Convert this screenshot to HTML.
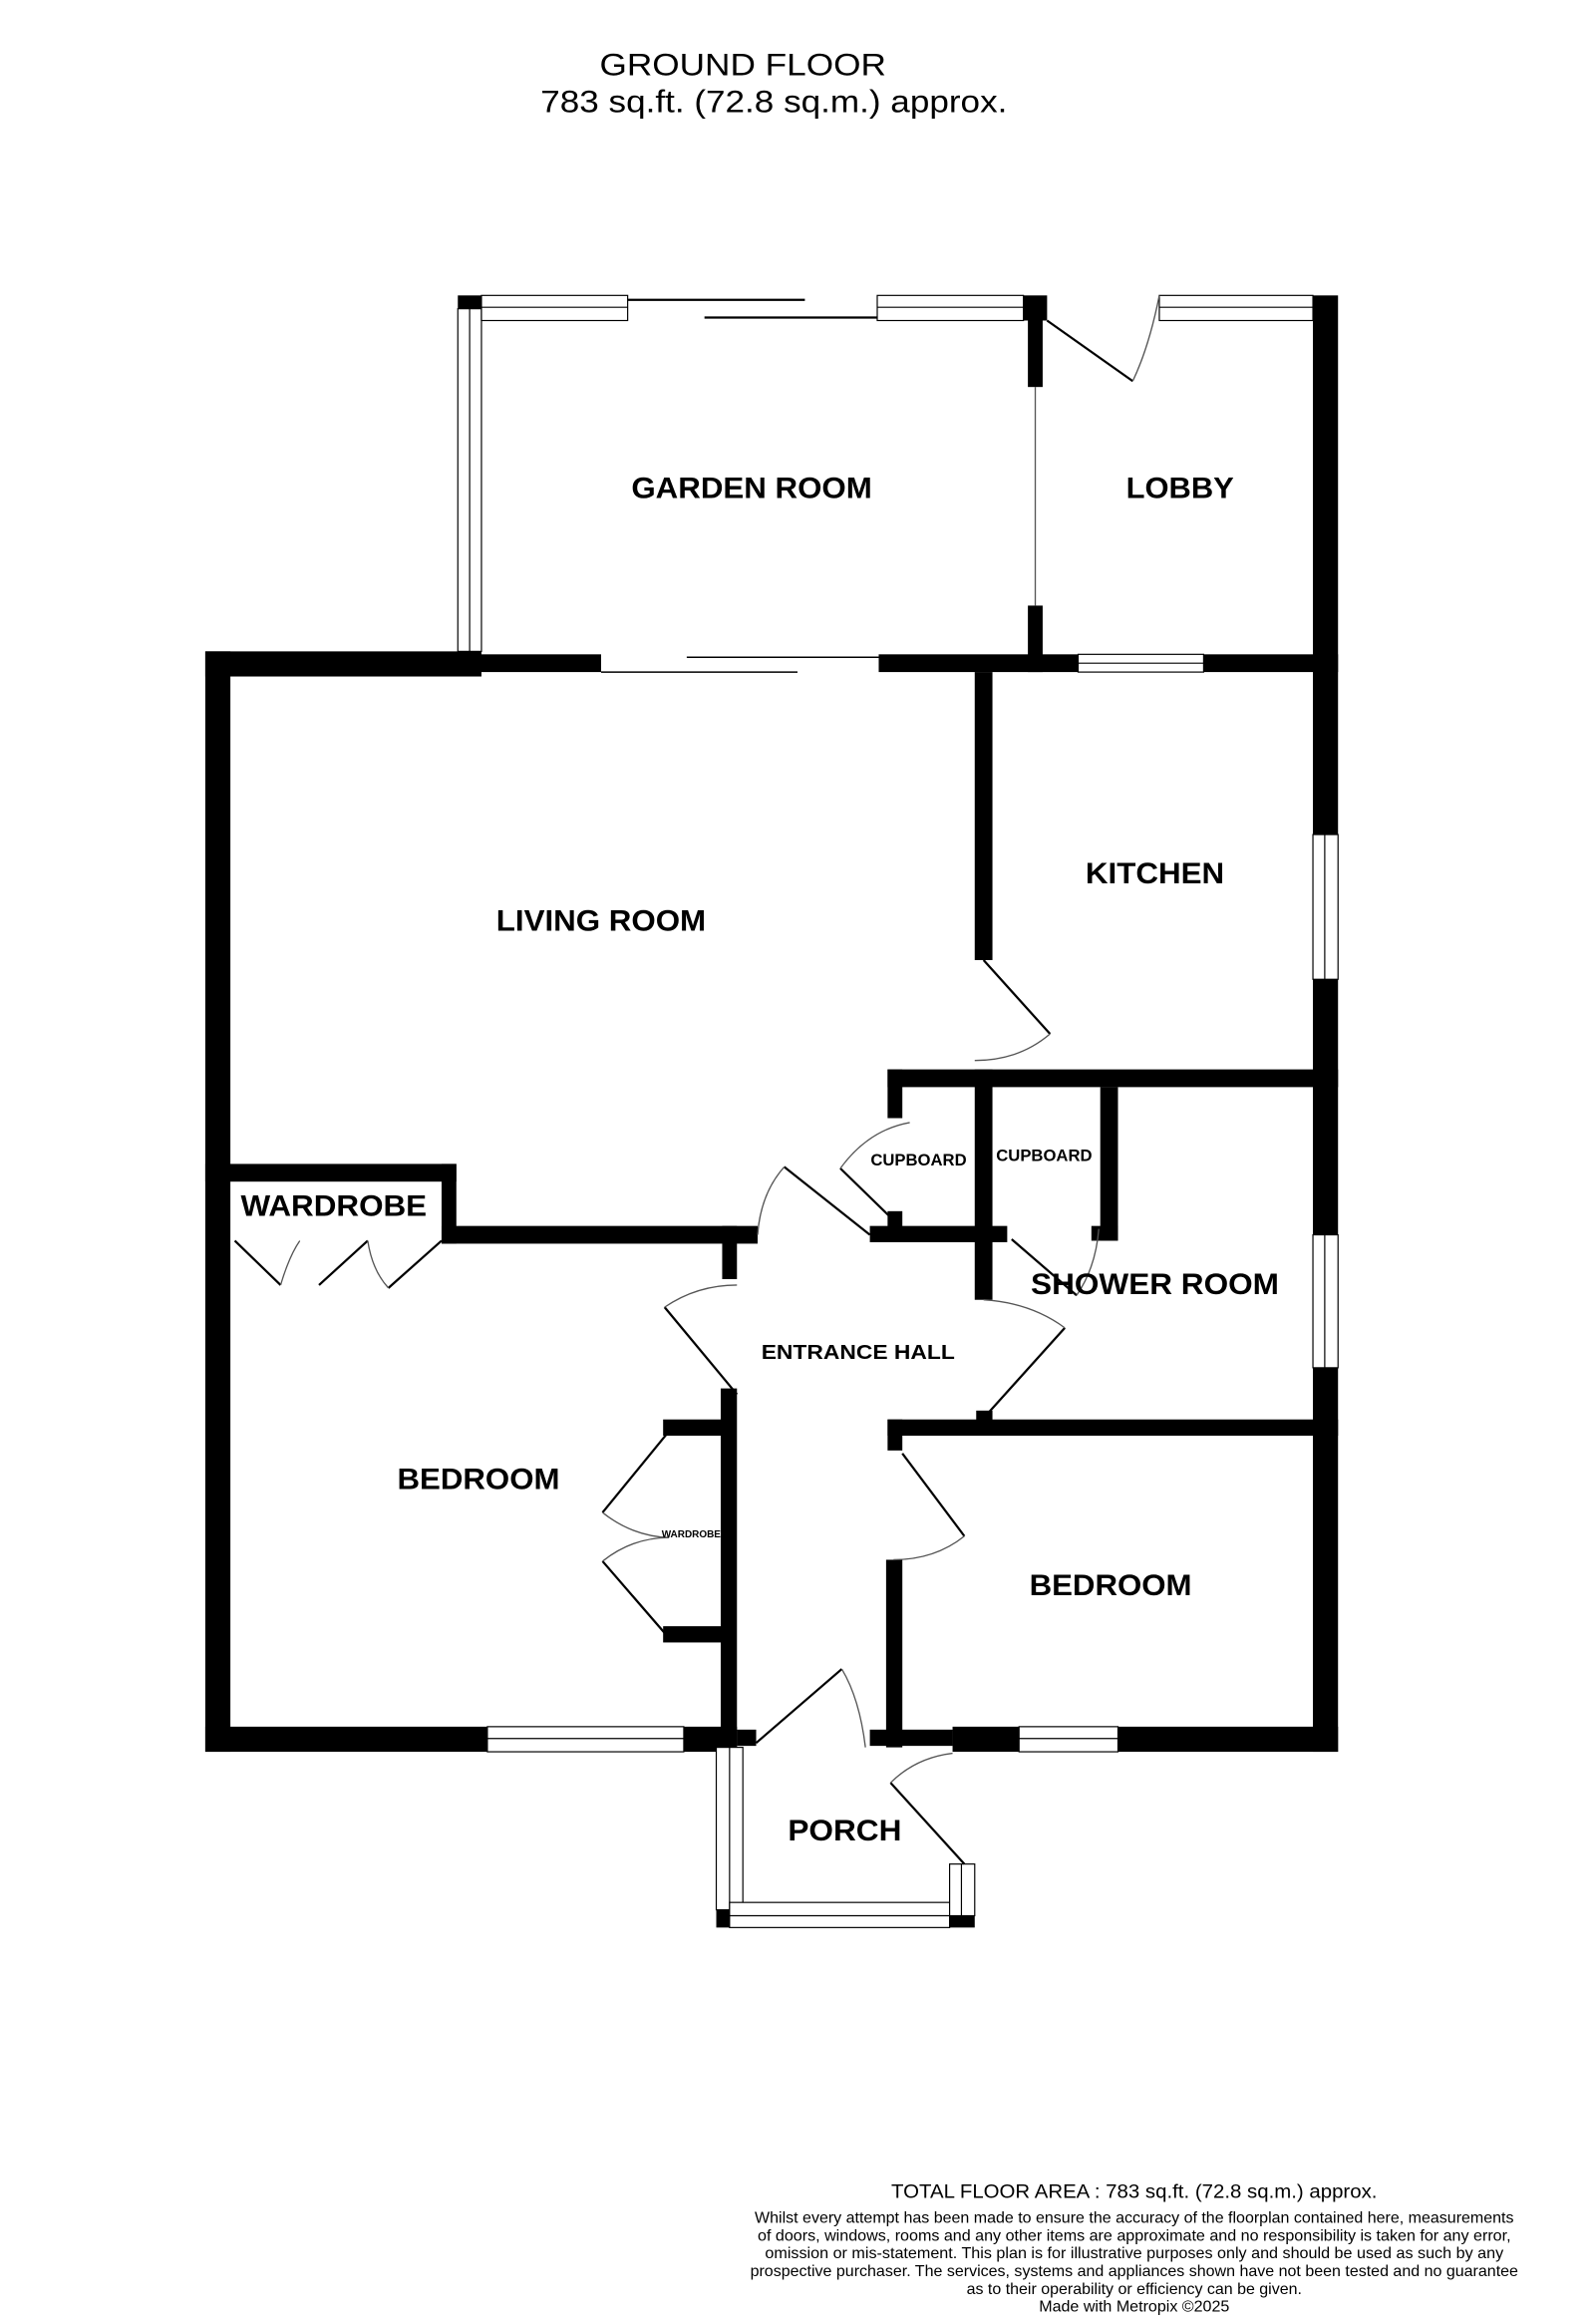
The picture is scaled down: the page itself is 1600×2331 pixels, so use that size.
<!DOCTYPE html>
<html><head><meta charset="utf-8"><style>
html,body{margin:0;padding:0;background:#fff;}
svg{display:block;}
text{font-family:"Liberation Sans",Arial,sans-serif;}
.l{font-weight:bold;font-size:20px;}
</style></head><body>
<svg width="1600" height="2331" viewBox="0 0 1080 1573.4" xmlns="http://www.w3.org/2000/svg">
<rect x="0" y="0" width="1080" height="1573.4" fill="#fff"/>
<text x="503" y="51" font-size="21" text-anchor="middle" textLength="194" lengthAdjust="spacingAndGlyphs">GROUND FLOOR</text>
<text x="524" y="76" font-size="21" text-anchor="middle" textLength="316" lengthAdjust="spacingAndGlyphs">783 sq.ft. (72.8 sq.m.) approx.</text>

<g fill="#000">
<!-- garden room / lobby -->
<rect x="310" y="200" width="16" height="9"/>
<rect x="693" y="200" width="16" height="17"/>
<rect x="696" y="217" width="10" height="45"/>
<rect x="696" y="410" width="10" height="45"/>
<rect x="889" y="200" width="17" height="365"/>
<rect x="889" y="663" width="17" height="173"/>
<rect x="889" y="926" width="17" height="260"/>
<!-- living top -->
<rect x="139" y="441" width="187" height="17"/>
<rect x="316" y="443" width="91" height="12"/>
<rect x="595" y="443" width="135" height="12"/>
<rect x="815" y="443" width="91" height="12"/>
<rect x="139" y="441" width="17" height="745"/>
<rect x="660" y="455" width="12" height="195"/>
<!-- kitchen/shower -->
<rect x="601" y="724" width="305" height="12"/>
<rect x="601" y="724" width="10" height="33"/>
<rect x="660" y="724" width="12" height="156"/>
<rect x="745" y="736" width="12" height="104"/>
<rect x="739" y="830" width="18" height="10"/>
<rect x="589" y="830" width="93" height="11"/>
<rect x="601" y="820" width="10" height="12"/>
<!-- living bottom / wardrobe -->
<rect x="139" y="788" width="170" height="12"/>
<rect x="299" y="788" width="10" height="54"/>
<rect x="299" y="830" width="214" height="12"/>
<rect x="489" y="830" width="10" height="36"/>
<rect x="488" y="940" width="11" height="246"/>
<rect x="449" y="961" width="40" height="11"/>
<rect x="449" y="1101" width="40" height="11"/>
<rect x="661" y="955" width="11" height="10"/>
<rect x="601" y="961" width="305" height="11"/>
<rect x="601" y="961" width="10" height="21"/>
<rect x="600" y="1056" width="11" height="127"/>
<!-- bottom -->
<rect x="139" y="1169" width="191" height="17"/>
<rect x="463" y="1169" width="36" height="17"/>
<rect x="499" y="1171" width="13" height="11"/>
<rect x="589" y="1171" width="56" height="11"/>
<rect x="645" y="1169" width="45" height="17"/>
<rect x="757" y="1169" width="149" height="17"/>
<!-- porch -->
<rect x="485" y="1293" width="9" height="12"/>
<rect x="643" y="1297" width="17" height="8"/>
</g>

<g fill="#fff" stroke="#000" stroke-width="0.8">
<!-- windows -->
<rect x="310" y="209" width="16" height="232"/>
<line x1="318" y1="209" x2="318" y2="441"/>
<rect x="326" y="200" width="99" height="17"/>
<line x1="326" y1="208" x2="425" y2="208"/>
<rect x="594" y="200" width="99" height="17"/>
<line x1="594" y1="208" x2="693" y2="208"/>
<rect x="785" y="200" width="104" height="17"/>
<line x1="785" y1="208" x2="889" y2="208"/>
<rect x="730" y="443" width="85" height="12"/>
<line x1="730" y1="449" x2="815" y2="449"/>
<rect x="889" y="565" width="17" height="98"/>
<line x1="897" y1="565" x2="897" y2="663"/>
<rect x="889" y="836" width="17" height="90"/>
<line x1="897" y1="836" x2="897" y2="926"/>
<rect x="330" y="1169" width="133" height="17"/>
<line x1="330" y1="1177" x2="463" y2="1177"/>
<rect x="690" y="1169" width="67" height="17"/>
<line x1="690" y1="1177" x2="757" y2="1177"/>
<rect x="485" y="1183" width="18" height="110"/>
<line x1="494" y1="1183" x2="494" y2="1293"/>
<rect x="494" y="1288" width="149" height="17"/>
<line x1="494" y1="1297" x2="643" y2="1297"/>
<rect x="643" y="1262" width="17" height="35"/>
<line x1="651" y1="1262" x2="651" y2="1297"/>
</g>

<g stroke="#000" fill="none" stroke-width="1.5">
<!-- sliding doors -->
<line x1="425" y1="203" x2="545" y2="203"/>
<line x1="477" y1="215" x2="594" y2="215"/>
<line x1="407" y1="455" x2="540" y2="455" stroke-width="1"/>
<line x1="465" y1="445" x2="595" y2="445" stroke-width="1"/>
<!-- door leaves -->
<line x1="709" y1="217" x2="767" y2="258"/>
<line x1="666" y1="650" x2="711" y2="700"/>
<line x1="569" y1="791" x2="609" y2="830"/>
<line x1="531" y1="790" x2="589" y2="836"/>
<line x1="685" y1="839" x2="729" y2="877"/>
<line x1="721" y1="899" x2="667" y2="959"/>
<line x1="499" y1="944" x2="450" y2="885"/>
<line x1="453" y1="969" x2="408" y2="1024"/>
<line x1="408" y1="1057" x2="453" y2="1109"/>
<line x1="611" y1="984" x2="653" y2="1040"/>
<line x1="512" y1="1180" x2="570" y2="1130"/>
<line x1="603" y1="1207" x2="653" y2="1262"/>
<line x1="159" y1="840" x2="190" y2="870"/>
<line x1="216" y1="870" x2="249" y2="840"/>
<line x1="263" y1="872" x2="299" y2="840"/>
</g>
<g stroke="#555" fill="none" stroke-width="0.9">
<line x1="701" y1="262" x2="701" y2="410"/>
<path d="M767 258 Q778 235 785 200"/>
<path d="M711 700 Q690 718 660 718"/>
<path d="M616 760 Q588 765 569 791"/>
<path d="M513 836 Q515 808 531 790"/>
<path d="M729 877 Q742 858 744 832"/>
<path d="M666 880 Q698 882 721 899"/>
<path d="M450 885 Q472 870 499 870"/>
<path d="M408 1024 Q428 1040 453 1041"/>
<path d="M408 1057 Q428 1041 453 1041"/>
<path d="M653 1040 Q633 1056 605 1056"/>
<path d="M570 1130 Q582 1150 586 1183"/>
<path d="M645 1187 Q620 1190 603 1207"/>
<path d="M190 870 Q196 850 203 840"/>
<path d="M249 840 Q252 860 263 872"/>
</g>

<g class="l">
<text x="509" y="337" text-anchor="middle" textLength="163" lengthAdjust="spacingAndGlyphs">GARDEN ROOM</text>
<text x="799" y="337" text-anchor="middle" textLength="73" lengthAdjust="spacingAndGlyphs">LOBBY</text>
<text x="782" y="598" text-anchor="middle" textLength="94" lengthAdjust="spacingAndGlyphs">KITCHEN</text>
<text x="407" y="630" text-anchor="middle" textLength="142" lengthAdjust="spacingAndGlyphs">LIVING ROOM</text>
<text x="226" y="823" text-anchor="middle" textLength="126" lengthAdjust="spacingAndGlyphs">WARDROBE</text>
<text x="782" y="876" text-anchor="middle" textLength="168" lengthAdjust="spacingAndGlyphs">SHOWER ROOM</text>
<text x="324" y="1008" text-anchor="middle" textLength="110" lengthAdjust="spacingAndGlyphs">BEDROOM</text>
<text x="752" y="1080" text-anchor="middle" textLength="110" lengthAdjust="spacingAndGlyphs">BEDROOM</text>
<text x="572" y="1246" text-anchor="middle" textLength="77" lengthAdjust="spacingAndGlyphs">PORCH</text>
</g>
<text x="581" y="920" font-size="14" font-weight="bold" text-anchor="middle" textLength="131" lengthAdjust="spacingAndGlyphs">ENTRANCE HALL</text>
<text x="622" y="789" font-size="11" font-weight="bold" text-anchor="middle" textLength="65" lengthAdjust="spacingAndGlyphs">CUPBOARD</text>
<text x="707" y="786" font-size="11" font-weight="bold" text-anchor="middle" textLength="65" lengthAdjust="spacingAndGlyphs">CUPBOARD</text>
<text x="468" y="1041" font-size="7" font-weight="bold" text-anchor="middle" textLength="40" lengthAdjust="spacingAndGlyphs">WARDROBE</text>

<text x="768" y="1488" font-size="13" text-anchor="middle" textLength="329" lengthAdjust="spacingAndGlyphs">TOTAL FLOOR AREA : 783 sq.ft. (72.8 sq.m.) approx.</text>
<g font-size="10.5" text-anchor="middle">
<text x="768" y="1505" textLength="514" lengthAdjust="spacingAndGlyphs">Whilst every attempt has been made to ensure the accuracy of the floorplan contained here, measurements</text>
<text x="768" y="1517" textLength="510" lengthAdjust="spacingAndGlyphs">of doors, windows, rooms and any other items are approximate and no responsibility is taken for any error,</text>
<text x="768" y="1529" textLength="500" lengthAdjust="spacingAndGlyphs">omission or mis-statement. This plan is for illustrative purposes only and should be used as such by any</text>
<text x="768" y="1541" textLength="520" lengthAdjust="spacingAndGlyphs">prospective purchaser. The services, systems and appliances shown have not been tested and no guarantee</text>
<text x="768" y="1553" textLength="227" lengthAdjust="spacingAndGlyphs">as to their operability or efficiency can be given.</text>
<text x="768" y="1565" textLength="129" lengthAdjust="spacingAndGlyphs">Made with Metropix ©2025</text>
</g>
</svg>
</body></html>
